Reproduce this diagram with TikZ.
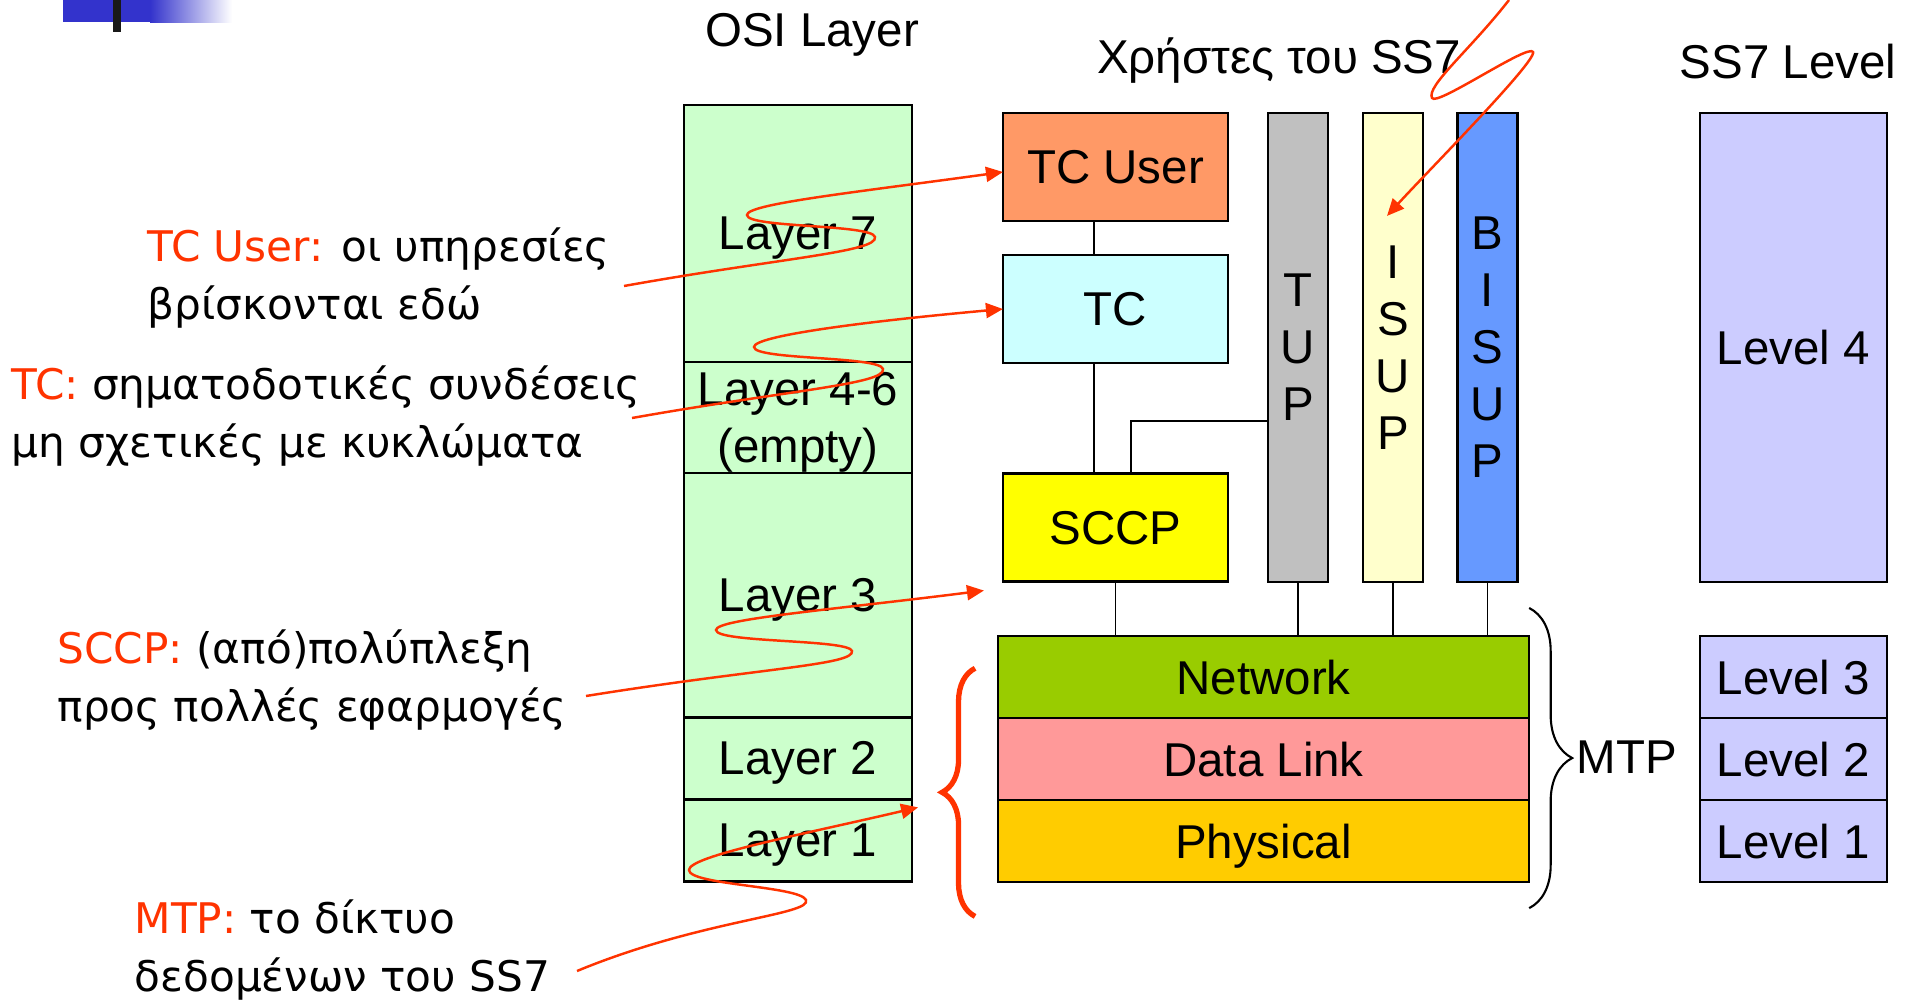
\documentclass[tikz,border=0pt]{standalone}
\usepackage{fontspec}
\setmainfont{Liberation Sans}
\newfontfamily\annfont{DejaVu Sans}
\usetikzlibrary{positioning,calc,arrows.meta,decorations.pathreplacing}

\definecolor{verdeosi}{HTML}{CCFFCC}
\definecolor{arancio}{HTML}{FF9966}
\definecolor{ciano}{HTML}{CCFFFF}
\definecolor{giallo}{HTML}{FFFF00}
\definecolor{grigio}{HTML}{C0C0C0}
\definecolor{crema}{HTML}{FFFFCC}
\definecolor{azzurro}{HTML}{6699FF}
\definecolor{lilla}{HTML}{CCCCFF}
\definecolor{verderete}{HTML}{99CC00}
\definecolor{rosa}{HTML}{FF9999}
\definecolor{oro}{HTML}{FFCC00}
\definecolor{rosso}{HTML}{FF3300}
\definecolor{blu}{HTML}{3333CC}

\newcommand{\etichetta}{\fontsize{13.5}{16.2}\selectfont}
\newcommand{\notafont}{\annfont\fontsize{12}{16.6}\selectfont}

\begin{document}
\begin{tikzpicture}[x=0.01cm, y=-0.01cm,
    scatola/.style={draw, line width=0.7pt, outer sep=0pt, inner sep=0pt, text depth=0pt, align=center, font=\etichetta},
    strato/.style={scatola, fill=verdeosi, minimum width=2.28cm},
    livello/.style={scatola, fill=lilla, minimum width=1.87cm},
    mtpbox/.style={scatola, minimum width=5.31cm, minimum height=0.82cm},
    utente/.style={scatola, minimum width=2.25cm, minimum height=1.08cm},
    barra/.style={scatola, minimum width=0.6cm, minimum height=4.69cm},
    filo/.style={line width=0.5pt},
    freccia/.style={rosso, line width=0.7pt, -{Triangle[length=0.17cm,width=0.15cm]}},
    nota/.style={anchor=west, align=left, inner sep=0pt, font=\notafont},
    titolo/.style={anchor=base, inner sep=0pt, font=\etichetta}]

    \useasboundingbox (0,0) rectangle (1916,1003);

    % Barra blu in alto a sinistra
    \fill[blu] (63,0) rectangle (150,22);
    \shade[left color=blu, right color=white] (150,0) rectangle (232,22);
    \fill[black!90] (113,0) rectangle (121,32);

    % Titoli
    \node[titolo] (osi) at (812,46) {OSI Layer};
    \node[titolo] (utenti) at (1279,73) {Χρήστες του SS7};
    \node[titolo] (ss7) at (1788,78) {SS7 Level};

    % Colonna OSI
    \node[strato, minimum height=2.57cm] (l7) at (798,233.5) {Layer 7};
    \node[strato, minimum height=1.11cm, below=0pt of l7] (l46) {Layer 4-6\\(empty)};
    \node[strato, minimum height=2.44cm, below=0pt of l46] (l3) {Layer 3};
    \node[strato, minimum height=0.82cm, below=0pt of l3] (l2) {Layer 2};
    \node[strato, minimum height=0.82cm, below=0pt of l2] (l1) {Layer 1};

    % Utenti SS7
    \node[utente, fill=arancio] (tcu) at (1115.5,167) {TC User};
    \node[utente, fill=ciano] (tc) at (1115.5,309) {TC};
    \node[utente, fill=giallo] (sccp) at (1115.5,527.5) {SCCP};
    \node[barra, fill=grigio] (tup) at (1298,347.5) {T\\U\\P};
    \node[barra, fill=crema] (isup) at (1393,347.5) {I\\S\\U\\P};
    \node[barra, fill=azzurro] (bisup) at (1487.5,347.5) {B\\I\\S\\U\\P};

    % MTP
    \node[mtpbox, fill=verderete] (net) at (1263.5,677) {Network};
    \node[mtpbox, fill=rosa, below=0pt of net] (dl) {Data Link};
    \node[mtpbox, fill=oro, below=0pt of dl] (phys) {Physical};

    % Livelli SS7
    \node[livello, minimum height=4.69cm] (lv4) at (1793.5,347.5) {Level 4};
    \node[livello, minimum height=0.82cm] (lv3) at (1793.5,677) {Level 3};
    \node[livello, minimum height=0.82cm, below=0pt of lv3] (lv2) {Level 2};
    \node[livello, minimum height=0.82cm, below=0pt of lv2] (lv1) {Level 1};

    % Collegamenti
    \draw[filo] ([xshift=-0.215cm]tcu.south) -- ([xshift=-0.215cm]tc.north);
    \draw[filo] ([xshift=-0.215cm]tc.south) -- ([xshift=-0.215cm]sccp.north);
    \draw[filo] ([xshift=0.155cm]sccp.north) |- ([yshift=-0.735cm]tup.west);
    \foreach \b in {sccp,tup,isup,bisup}
        \draw[filo] (\b.south) -- (\b.south |- net.north);

    % Graffe
    \draw[line width=0.6pt, decorate, decoration={brace, amplitude=0.43cm}]
        ($(net.north east)+(0,-28)$) -- ($(phys.south east)+(0,26)$);
    \node[anchor=west, inner sep=0pt, font=\etichetta] (mtp) at (1576,757) {MTP};
    \draw[rosso, line width=1.5pt, decorate, decoration={brace, amplitude=0.33cm}]
        ($(l1.south east)+(63,35)$) -- ($(l2.north east)+(63,-49)$);

    % Note
    \node[nota] (n1) at (147,278) {\textcolor{rosso}{TC User:} οι υπηρεσίες\\βρίσκονται εδώ};
    \node[nota] (n2) at (11,416) {\textcolor{rosso}{TC:} σηματοδοτικές συνδέσεις\\μη σχετικές με κυκλώματα};
    \node[nota] (n3) at (57,680) {\textcolor{rosso}{SCCP:} (από)πολύπλεξη\\προς πολλές εφαρμογές};
    \node[nota] (n4) at (134,950) {\textcolor{rosso}{MTP:} το δίκτυο\\δεδομένων του SS7};

    % Frecce ondulate
    \coordinate (s1) at (624,286);
    \coordinate (s2) at (632,418);
    \coordinate (s3) at (586,696);
    \coordinate (s4) at (577,971);
    \coordinate (s5) at (1509,0);
    \draw[freccia] (s1) .. controls (780,258) and (878,252) .. (875,237)
        .. controls (872,224) and (747,228) .. (747,215)
        .. controls (747,204) and (850,193) .. ([yshift=-0.05cm]tcu.west);
    \draw[freccia] (s2) .. controls (790,390) and (886,384) .. (883,369)
        .. controls (880,356) and (754,360) .. (754,347)
        .. controls (754,336) and (860,322) .. (tc.west);
    \draw[freccia] (s3) .. controls (760,668) and (855,665) .. (852,651)
        .. controls (849,639) and (716,643) .. (716,630)
        .. controls (716,619) and (830,610) .. ([xshift=-0.19cm,yshift=-0.09cm]sccp.south west);
    \draw[freccia] (s4) .. controls (700,920) and (812,915) .. (806,900)
        .. controls (800,886) and (689,885) .. (689,870)
        .. controls (689,856) and (800,835) .. ([xshift=0.06cm,yshift=-0.08cm]l1.north east);
    \draw[freccia] (s5) .. controls (1470,50) and (1426,86) .. (1432,98)
        .. controls (1436,107) and (1529,43) .. (1533,52)
        .. controls (1537,61) and (1427,172) .. ([xshift=-0.06cm,yshift=-1.03cm]isup.north);
\end{tikzpicture}
\end{document}
